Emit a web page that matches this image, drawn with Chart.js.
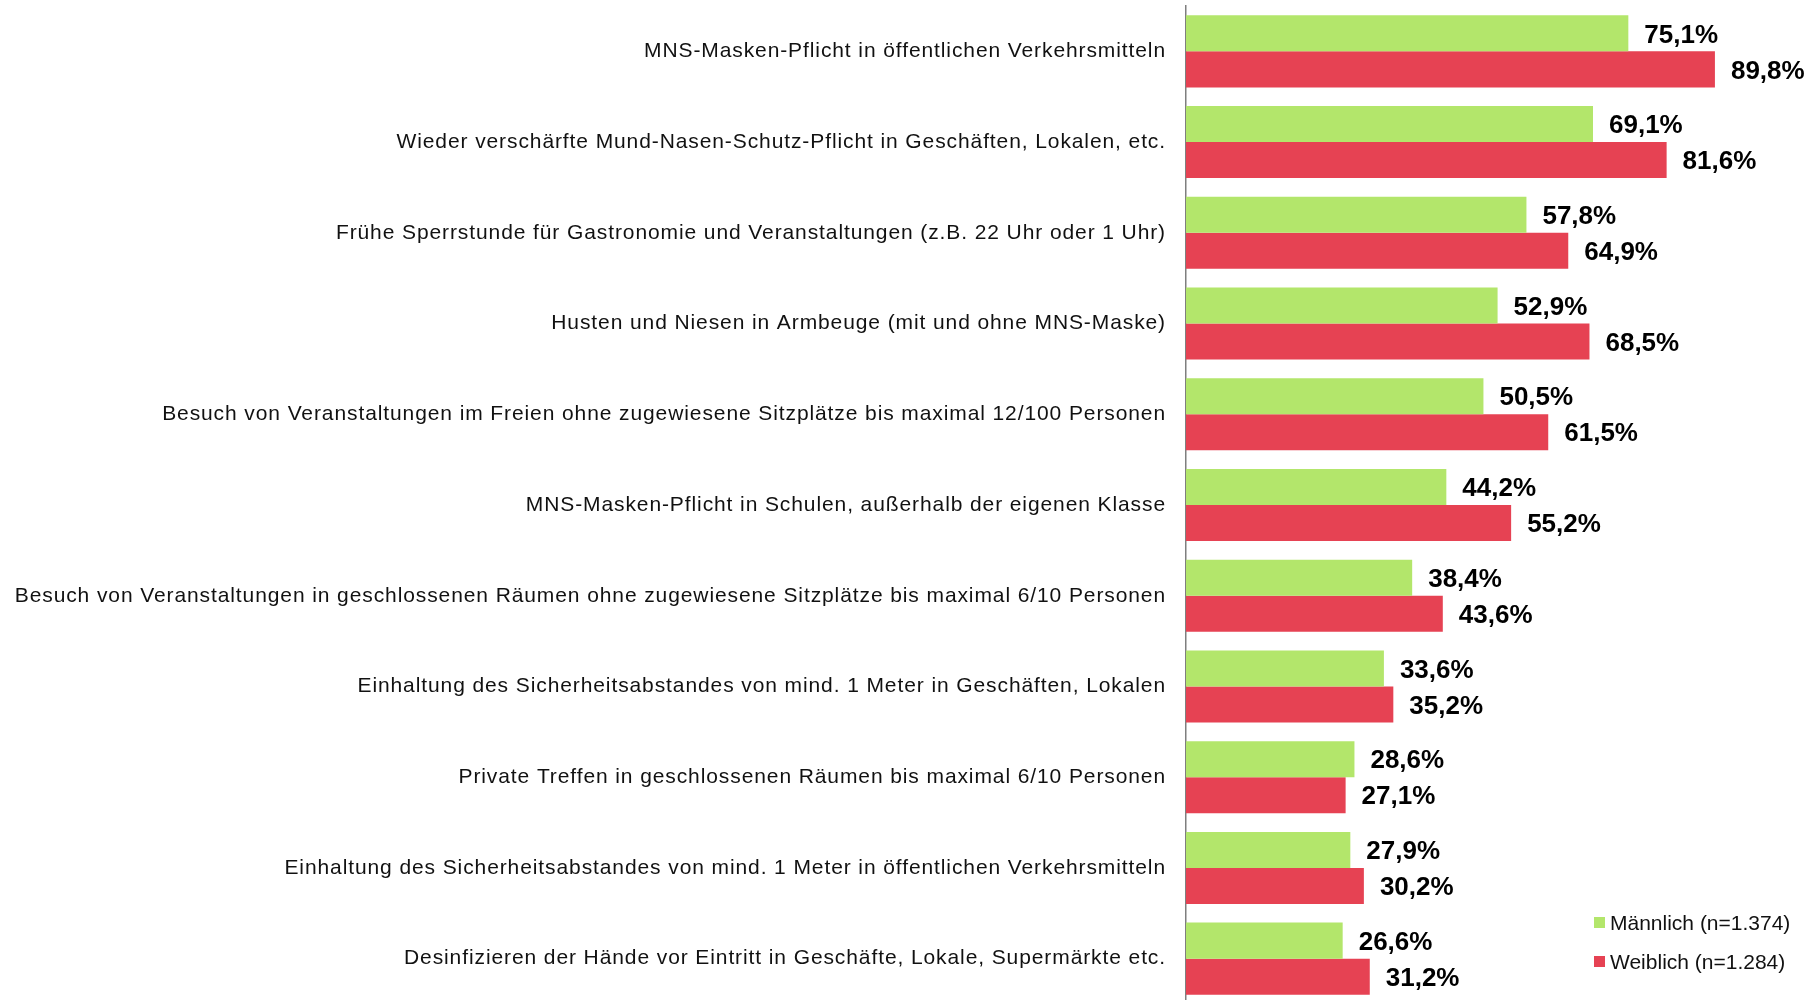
<!DOCTYPE html>
<html lang="de">
<head>
  <meta charset="UTF-8">
  <title>Maßnahmen nach Geschlecht</title>
  <style>
    html, body {
      margin: 0;
      padding: 0;
      overflow: hidden;
      background: #ffffff;
    }
    body {
      font-family: "Liberation Sans", Arial, sans-serif;
      width: 1819px;
      height: 1000px;
      position: relative;
    }
    .chart-container {
      position: absolute;
      left: 0;
      top: 0;
      width: 1819px;
      height: 1005px;
    }
    .legend {
      position: absolute;
      left: 1594px;
      top: 903px;
      font-size: 21px;
      color: #111;
    }
    .legend-item {
      display: flex;
      align-items: center;
      height: 39px;
    }
    .swatch {
      width: 11px;
      height: 11px;
      margin-right: 5px;
    }
  </style>
</head>
<body>
  <div class="chart-container">
    <canvas id="genderChart"></canvas>
  </div>
  <div class="legend">
    <div class="legend-item"><span class="swatch" style="background:#b3e66b"></span>Männlich (n=1.374)</div>
    <div class="legend-item"><span class="swatch" style="background:#e64253"></span>Weiblich (n=1.284)</div>
  </div>

  <script src="https://cdn.jsdelivr.net/npm/chart.js"></script>
  <script>
    const categories = [
      'MNS-Masken-Pflicht in öffentlichen Verkehrsmitteln',
      'Wieder verschärfte Mund-Nasen-Schutz-Pflicht in Geschäften, Lokalen, etc.',
      'Frühe Sperrstunde für Gastronomie und Veranstaltungen (z.B. 22 Uhr oder 1 Uhr)',
      'Husten und Niesen in Armbeuge (mit und ohne MNS-Maske)',
      'Besuch von Veranstaltungen im Freien ohne zugewiesene Sitzplätze bis maximal 12/100 Personen',
      'MNS-Masken-Pflicht in Schulen, außerhalb der eigenen Klasse',
      'Besuch von Veranstaltungen in geschlossenen Räumen ohne zugewiesene Sitzplätze bis maximal 6/10 Personen',
      'Einhaltung des Sicherheitsabstandes von mind. 1 Meter in Geschäften, Lokalen',
      'Private Treffen in geschlossenen Räumen bis maximal 6/10 Personen',
      'Einhaltung des Sicherheitsabstandes von mind. 1 Meter in öffentlichen Verkehrsmitteln',
      'Desinfizieren der Hände vor Eintritt in Geschäfte, Lokale, Supermärkte etc.'
    ];
    const maennlich = [75.1, 69.1, 57.8, 52.9, 50.5, 44.2, 38.4, 33.6, 28.6, 27.9, 26.6];
    const weiblich = [89.8, 81.6, 64.9, 68.5, 61.5, 55.2, 43.6, 35.2, 27.1, 30.2, 31.2];

    const fmt = v => v.toFixed(1).replace('.', ',') + '%';

    // draws the bold value next to each bar
    const valueLabels = {
      id: 'valueLabels',
      beforeDraw(chart) {
        chart.ctx.letterSpacing = '0.9px';
      },
      afterDatasetsDraw(chart) {
        const ctx = chart.ctx;
        ctx.save();
        ctx.letterSpacing = '0px';
        ctx.font = 'bold 26px "Liberation Sans", Arial, sans-serif';
        ctx.fillStyle = '#000';
        ctx.textBaseline = 'middle';
        ctx.textAlign = 'left';
        chart.data.datasets.forEach((ds, i) => {
          chart.getDatasetMeta(i).data.forEach((bar, j) => {
            ctx.fillText(fmt(ds.data[j]), bar.x + 16, bar.y + 2);
          });
        });
        ctx.restore();
      }
    };

    new Chart(document.getElementById('genderChart'), {
      type: 'bar',
      data: {
        labels: categories,
        datasets: [
          { label: 'Männlich (n=1.374)', data: maennlich, backgroundColor: '#b3e66b' },
          { label: 'Weiblich (n=1.284)', data: weiblich, backgroundColor: '#e64253' }
        ]
      },
      options: {
        indexAxis: 'y',
        responsive: true,
        maintainAspectRatio: false,
        animation: false,
        categoryPercentage: 0.794,
        barPercentage: 1.0,
        layout: { padding: { top: 6, bottom: 1, right: 44, left: 0 } },
        plugins: {
          legend: { display: false },
          tooltip: { enabled: false }
        },
        scales: {
          x: { display: false, min: 0, max: 100 },
          y: {
            grid: { display: false, drawTicks: false },
            border: { display: true, color: '#7f7f7f', width: 1.5 },
            ticks: {
              padding: 20,
              color: '#111',
              font: { family: '"Liberation Sans", Arial, sans-serif', size: 21 }
            },
            afterFit(scale) {
              scale.width = 1186;
              scale.paddingTop = 0;
              scale.paddingBottom = 0;
            }
          }
        }
      },
      plugins: [valueLabels]
    });
  </script>
</body>
</html>
